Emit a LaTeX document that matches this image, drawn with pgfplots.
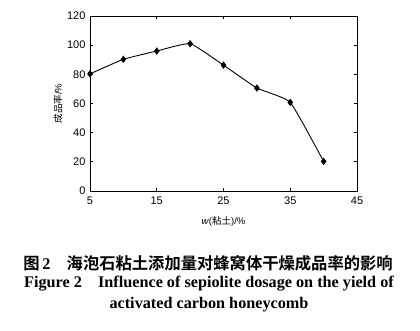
\documentclass[border=0pt]{standalone}
\usepackage{pgfplots}
\pgfplotsset{compat=1.18}
\usepackage{fontspec}
\setmainfont{Liberation Serif}
\newfontfamily\sans{Liberation Sans}
\newfontfamily\cjk{Noto Sans CJK SC}
\newfontfamily\cjkb{Noto Sans CJK SC Bold}
\begin{document}
\begin{tikzpicture}[x=1pt,y=1pt]
\useasboundingbox (0,0) rectangle (420,-330);
\begin{axis}[
  scale only axis, width=267pt, height=175pt,
  at={(90pt,-191pt)}, anchor=south west,
  xmin=5, xmax=45, ymin=0, ymax=120,
  xtick={5,15,25,35,45}, ytick={0,20,...,120},
  tick align=inside, major tick length=3pt,
  tick style={black, thick},
  axis line style={black, line width=0.8pt},
  /pgf/number format/assume math mode=true,
  ticklabel style={font=\sans\fontsize{11}{12}\selectfont},
  xticklabel style={yshift=-2pt},
  yticklabel style={xshift=-1pt},
  xlabel={\sans\fontsize{9.5}{10}\selectfont\textit{w}(\cjk 粘土\sans)/\%},
  ylabel={\cjk\fontsize{9.5}{10}\selectfont 成品率\sans/\%},
  xlabel style={at={(axis description cs:0.5,0)}, anchor=north, yshift=-22pt},
  ylabel style={at={(axis description cs:0,0.5)}, anchor=south, yshift=24pt},
]
\addplot[black, line width=0.9pt, smooth, tension=0.25, mark=diamond*, mark size=3pt, mark options={solid,fill=black}]
coordinates {(5,80.3) (10,90.3) (15,96) (20,101) (25,86.3) (30,70.6) (35,60.8) (40,20.3)};
\end{axis}
\node[font=\cjkb\fontsize{16.3}{18}\selectfont] at (208,-263) {图\,{\rmfamily\bfseries 2}\quad 海泡石粘土添加量对蜂窝体干燥成品率的影响};
\node[font=\rmfamily\bfseries\fontsize{16.2}{18}\selectfont] at (209,-284) {Figure 2\quad Influence of sepiolite dosage on the yield of};
\node[font=\rmfamily\bfseries\fontsize{16.2}{18}\selectfont] at (209,-305) {activated carbon honeycomb};
\end{tikzpicture}
\end{document}
